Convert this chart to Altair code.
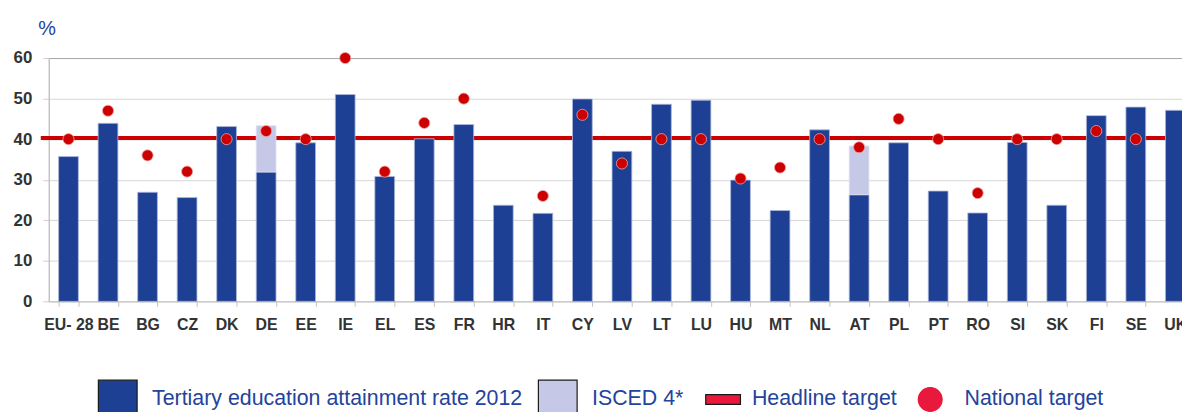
import altair as alt
import pandas as pd

countries = ["EU- 28", "BE", "BG", "CZ", "DK", "DE", "EE", "IE", "EL", "ES", "FR", "HR", "IT", "CY",
             "LV", "LT", "LU", "HU", "MT", "NL", "AT", "PL", "PT", "RO", "SI", "SK", "FI", "SE", "UK"]
tertiary = [35.7, 43.9, 26.9, 25.6, 43.1, 31.9, 39.1, 51.0, 30.8, 40.1, 43.6, 23.7, 21.7, 49.9,
            37.0, 48.6, 49.6, 29.9, 22.4, 42.3, 26.3, 39.1, 27.2, 21.8, 39.2, 23.7, 45.8, 47.9, 47.1]
isced4 = [0, 0, 0, 0, 0, 11.4, 0, 0, 0, 0, 0, 0, 0, 0,
          0, 0, 0, 0, 0, 0, 12.0, 0, 0, 0, 0, 0, 0, 0, 0]
national = [40, 47, 36, 32, 40, 42, 40, 60, 32, 44, 50, None, 26, 46,
            34, 40, 40, 30.3, 33, 40, 38, 45, 40, 26.7, 40, 40, 42, 40, None]
headline = [40.3]

legend_labels = ["Tertiary education attainment rate 2012", "ISCED 4*", "Headline target", "National target"]

BLUE = "#1d4094"
LAV = "#c5c8e6"
RED = "#cc0000"
LRED = "#e8193c"
TXT = "#24439b"
AX = "#333333"
FONT = "Liberation Sans"

df = pd.DataFrame({"country": countries, "tertiary": tertiary, "isced4": isced4, "national": national})
df["total"] = df["tertiary"] + df["isced4"]
df_isced = df[df["isced4"] > 0]
df_nat = df.dropna(subset=["national"])
df_head = pd.DataFrame({"headline": headline})
df_leg = pd.DataFrame({"series": legend_labels})

W = 1141
H = 245
STEP = 39.8

xscale = alt.Scale(domain=countries, range=[0, STEP * len(countries)], paddingInner=0.5, paddingOuter=0.25)
yscale = alt.Scale(domain=[0, 60], nice=False)

x_enc = alt.X("country:N", scale=xscale, sort=countries, title=None,
              axis=alt.Axis(labelAngle=0, labelFont=FONT, labelFontSize=16, labelFontWeight="bold",
                            labelColor=AX, labelPadding=10, tickBand="extent", tickSize=5,
                            tickColor="#c4c4c4", domainColor="#c4c4c4", grid=False, labelLimit=200))

y_axis = alt.Axis(values=[0, 10, 20, 30, 40, 50, 60], labelFont=FONT, labelFontSize=17,
                  labelFontWeight="bold", labelColor=AX, labelPadding=11, tickSize=6,
                  tickColor="#d0d0d0", domainColor="#b4b4b4",
                  gridColor=alt.condition("datum.value == 60", alt.value("#a8a8a8"), alt.value("#d6d6d6")),
                  title="%", titleAngle=0, titleAlign="left", titleBaseline="alphabetic",
                  titleX=-11, titleY=-24, titleColor=TXT, titleFont=FONT, titleFontSize=20,
                  titleFontWeight="normal")

rule = alt.Chart(df_head).mark_rule(color=RED, strokeWidth=4).encode(
    y=alt.Y("headline:Q", scale=yscale, axis=y_axis),
    x=alt.value(-8),
    x2=alt.value(W),
)

bars = alt.Chart(df).mark_bar(color=BLUE, stroke="#aeb8dc", strokeWidth=0.8).encode(
    x=x_enc,
    y=alt.Y("tertiary:Q", scale=yscale),
)

bars_isced = alt.Chart(df_isced).mark_bar(color=LAV, stroke="#dfe2f2", strokeWidth=0.8).encode(
    x=alt.X("country:N", scale=xscale, sort=countries),
    y=alt.Y("tertiary:Q", scale=yscale),
    y2="total:Q",
)

dots = alt.Chart(df_nat).mark_point(filled=True, color=RED, size=125, opacity=1,
                                    stroke="#f2a0a0", strokeWidth=0.8).encode(
    x=alt.X("country:N", scale=xscale, sort=countries),
    y=alt.Y("national:Q", scale=yscale),
)

# leading move-tos give every legend symbol the same vertical bounds so the entries line up
rect_path = "M0,-1M0,1M-0.617,-0.256H1.177V0.256H-0.617Z"
circ_path = "M0,-1M0,1M0,-0.615A0.615,0.615,0,1,1,0,0.615A0.615,0.615,0,1,1,0,-0.615Z"

leg = alt.Legend(title=None, orient="none", legendX=49, legendY=323, direction="horizontal",
                 columns=4, padding=0, symbolSize=1521, symbolOpacity=1, symbolStrokeWidth=1.2,
                 labelFont=FONT, labelFontSize=21.5, labelColor=TXT, labelLimit=600,
                 labelOffset=14, columnPadding=13)

legend_layer = alt.Chart(df_leg).mark_point(filled=True, opacity=0).encode(
    color=alt.Color("series:N", scale=alt.Scale(domain=legend_labels, range=[BLUE, LAV, LRED, LRED]),
                    legend=leg),
    shape=alt.Shape("series:N", scale=alt.Scale(domain=legend_labels,
                                                range=["square", "square", rect_path, circ_path]),
                    legend=leg),
    stroke=alt.Stroke("series:N", scale=alt.Scale(domain=legend_labels,
                                                  range=["#1a1a1a", "#1a1a1a", "#1a1a1a", LRED]),
                      legend=leg),
)

chart = alt.layer(rule, bars, bars_isced, dots, legend_layer).properties(
    width=W, height=H,
    autosize=alt.AutoSizeParams(type="none"),
    padding={"left": 41, "top": 49, "right": 0, "bottom": 110},
).configure_view(stroke=None).configure(background="white")

chart.save("out.html", embed_options={"renderer": "svg", "actions": False})
